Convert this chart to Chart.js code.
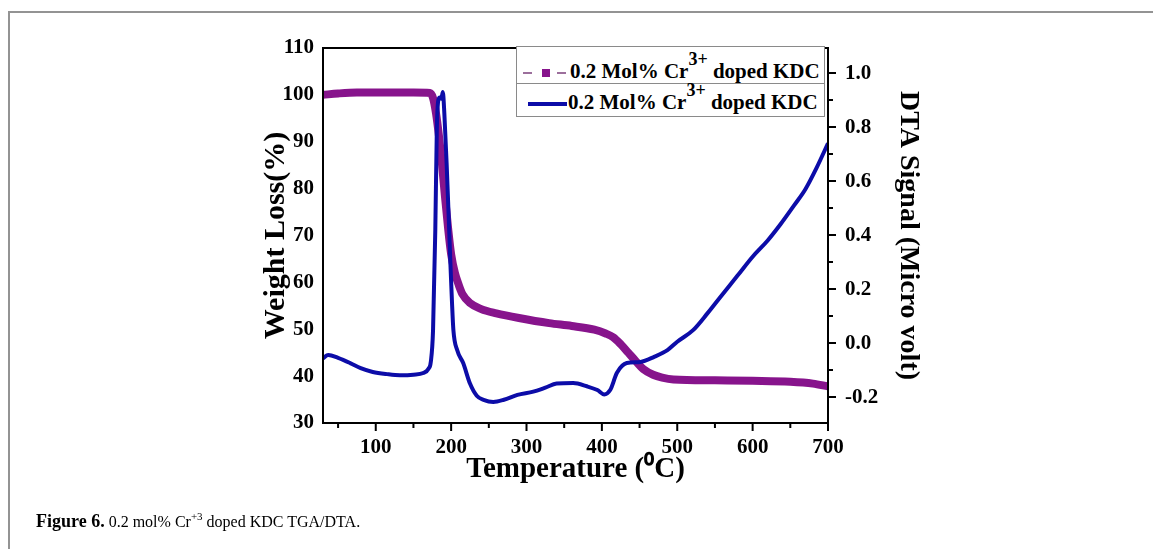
<!DOCTYPE html>
<html>
<head>
<meta charset="utf-8">
<script src="https://cdn.jsdelivr.net/npm/chart.js@4.4.0/dist/chart.umd.min.js"></script>
<style>
  html, body { margin: 0; padding: 0; background: #fff; width: 1153px; height: 549px; overflow: hidden; }
  #frame { position: absolute; left: 8px; top: 11px; width: 1200px; height: 600px;
           border-left: 2px solid #939393; border-top: 2px solid #939393; }
  #tgaChart { position: absolute; left: 0; top: 0; }
  .serif { font-family: "Liberation Serif", "Times New Roman", serif; color: #000; }
  #legend { position: absolute; left: 516px; top: 46px; width: 307px; height: 69px;
            border: 1px solid #8a8a8a; background: #fff; }
  #legend .txt { position: absolute; font-size: 21px; font-weight: bold; line-height: 24px; white-space: nowrap; }
  #legend sup { font-size: 18px; line-height: 0; vertical-align: baseline; position: relative; top: -13px; }
  #legend .abs { position: absolute; }
  #caption { position: absolute; left: 36px; top: 512px; font-size: 16px; line-height: 18px; white-space: nowrap; }
  #caption b { font-size: 18px; }
  #caption sup { font-size: 11px; line-height: 0; vertical-align: baseline; position: relative; top: -7px; }
</style>
</head>
<body>
<div id="frame"></div>
<canvas id="tgaChart" width="1153" height="549"></canvas>

<div id="legend" class="serif">
  <div class="abs" style="left:6px; top:25px; width:9px; height:2px; background:#9c6f9c;"></div>
  <div class="abs" style="left:25px; top:22px; width:8px; height:8px; background:#87148c;"></div>
  <div class="abs" style="left:40px; top:25px; width:9px; height:2px; background:#9c6f9c;"></div>
  <div class="txt" style="left:53px; top:12px;">0.2 Mol% Cr<sup>3+</sup> doped KDC</div>
  <div class="abs" style="left:0; top:36px; width:307px; height:1px; background:#8a8a8a;"></div>
  <div class="abs" style="left:11px; top:55px; width:39px; height:4px; background:#0c0ca8;"></div>
  <div class="txt" style="left:51px; top:43px;">0.2 Mol% Cr<sup>3+</sup> doped KDC</div>
</div>

<div id="caption" class="serif"><b>Figure 6.</b> 0.2 mol% Cr<sup>+3</sup> doped KDC TGA/DTA.</div>

<script>
// TGA curve (left axis)
const tgaTemp = [30, 50, 75, 100, 150, 172, 176, 180, 184, 188, 192, 196, 200, 205, 210, 215, 225, 240,
  260, 290, 330, 360, 390, 405, 415, 425, 435, 445, 455, 468, 480, 495, 550, 600, 650, 680, 700];
const tgaWeight = [100.0, 100.3, 100.5, 100.5, 100.5, 100.4, 99.3, 96, 91, 85, 78, 71.5, 66, 62, 59.5, 57.5, 55.6, 54.3,
  53.4, 52.4, 51.3, 50.7, 49.9, 49.1, 48.3, 46.8, 45, 43.2, 41.5, 40.3, 39.7, 39.3, 39.1, 39.0, 38.8, 38.4, 37.8];

// DTA curve (right axis)
const dtaTemp = [30, 37, 50, 66, 80, 96, 115, 132, 150, 163, 170, 173, 176, 179, 181, 183, 185, 187, 189, 191,
  194, 197, 199, 201, 203, 208, 216, 225, 234, 243, 256, 270, 288, 309, 325, 340, 362, 380, 394, 403, 411,
  420, 433, 451, 470, 487, 500, 521, 540, 557, 580, 600, 620, 637, 655, 670, 685, 700];
const dtaSignal = [-0.056, -0.044, -0.055, -0.074, -0.093, -0.107, -0.115, -0.119, -0.117, -0.111, -0.095, -0.07,
  0.048, 0.42, 0.79, 0.9, 0.91, 0.905, 0.93, 0.85, 0.667, 0.45, 0.296, 0.16, 0.048, -0.026, -0.074, -0.15,
  -0.195, -0.21, -0.218, -0.21, -0.192, -0.18, -0.165, -0.15, -0.148, -0.16, -0.174, -0.19, -0.174, -0.11,
  -0.074, -0.07, -0.05, -0.026, 0.005, 0.048, 0.11, 0.17, 0.25, 0.32, 0.38, 0.44, 0.51, 0.57, 0.65, 0.74];

// axis tick labels
const tempTicks = [100, 200, 300, 400, 500, 600, 700];
const weightTicks = [30, 40, 50, 60, 70, 80, 90, 100, 110];
const dtaTicks = [-0.2, 0.0, 0.2, 0.4, 0.6, 0.8, 1.0];

const serif = '"Liberation Serif", "Times New Roman", serif';
const bold = size => ({ family: serif, size: size, weight: 'bold' });

// box round the plot and outward ticks (long = labelled, short = minor)
const axisFrame = {
  id: 'axisFrame',
  afterDatasetsDraw(chart) {
    const { ctx, chartArea: a, scales } = chart;
    ctx.save();
    ctx.strokeStyle = '#000';
    ctx.lineWidth = 2;
    ctx.strokeRect(a.left, a.top, a.right - a.left, a.bottom - a.top);
    ctx.beginPath();
    scales.x.ticks.forEach(t => {
      const px = scales.x.getPixelForValue(t.value);
      const len = tempTicks.includes(t.value) ? 8 : 5;
      ctx.moveTo(px, a.bottom);
      ctx.lineTo(px, a.bottom + len);
    });
    scales.y1.ticks.forEach(t => {
      const py = scales.y1.getPixelForValue(t.value);
      const major = Math.round(t.value * 10) % 2 === 0;
      ctx.moveTo(a.right, py);
      ctx.lineTo(a.right + (major ? 8 : 5), py);
    });
    ctx.stroke();
    ctx.restore();
  }
};

const ctx = document.getElementById('tgaChart').getContext('2d');
new Chart(ctx, {
  type: 'line',
  data: {
    datasets: [{
      label: '0.2 Mol% Cr3+ doped KDC (DTA)',
      data: dtaTemp.map((t, i) => ({ x: t, y: dtaSignal[i] })),
      yAxisID: 'y1',
      borderColor: '#0c0ca8',
      borderWidth: 4,
      pointRadius: 0,
      cubicInterpolationMode: 'monotone',
      order: 0
    }, {
      label: '0.2 Mol% Cr3+ doped KDC (TGA)',
      data: tgaTemp.map((t, i) => ({ x: t, y: tgaWeight[i] })),
      yAxisID: 'y',
      borderColor: '#87148c',
      borderWidth: 8,
      pointRadius: 0,
      cubicInterpolationMode: 'monotone',
      order: 1
    }]
  },
  options: {
    responsive: false,
    animation: false,
    layout: { padding: { left: 240, right: 215, top: 48, bottom: 50 } },
    plugins: { legend: { display: false }, tooltip: { enabled: false } },
    scales: {
      x: {
        type: 'linear',
        min: 30,
        max: tempTicks[tempTicks.length - 1],
        afterFit: s => { s.height = 76; },
        grid: { display: false, drawTicks: false },
        border: { display: false },
        ticks: {
          stepSize: 50, includeBounds: false, autoSkip: false, maxRotation: 0,
          padding: 12, color: '#000', font: bold(21),
          callback: v => tempTicks.includes(v) ? v : ''
        },
        title: { display: true, text: 'Temperature (⁰C)', color: '#000', font: bold(29), padding: { top: 0, bottom: 12 } }
      },
      y: {
        position: 'left',
        min: weightTicks[0],
        max: weightTicks[weightTicks.length - 1],
        afterFit: s => { s.width = 83; },
        grid: { display: false, drawTicks: false },
        border: { display: false },
        ticks: { stepSize: 10, autoSkip: false, padding: 9, color: '#000', font: bold(21) },
        title: { display: true, text: 'Weight Loss(%)', color: '#000', font: bold(30), padding: { top: 18, bottom: 0 } }
      },
      y1: {
        position: 'right',
        min: -0.296,
        max: 1.093,
        afterFit: s => { s.width = 110; },
        grid: { display: false, drawTicks: false },
        border: { display: false },
        ticks: {
          stepSize: 0.1, includeBounds: false, autoSkip: false, crossAlign: 'near',
          padding: 17, color: '#000', font: bold(21),
          callback: v => {
            const hit = dtaTicks.find(d => Math.abs(d - v) < 1e-6);
            return hit === undefined ? '' : hit.toFixed(1);
          }
        },
        title: { display: true, text: 'DTA Signal (Micro volt)', color: '#000', font: bold(28), padding: { top: 13, bottom: 0 } }
      }
    }
  },
  plugins: [axisFrame]
});
</script>
</body>
</html>
